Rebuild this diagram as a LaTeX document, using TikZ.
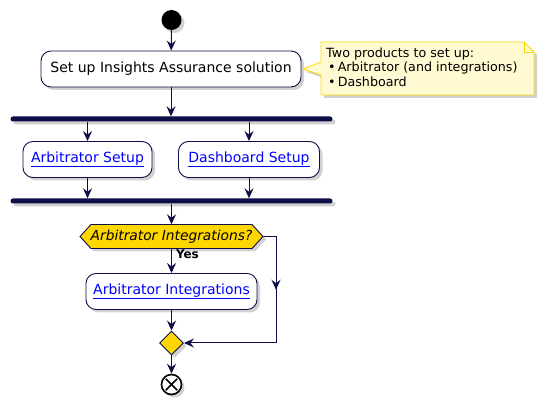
\documentclass[tikz,border=0pt]{standalone}
\usepackage{fontspec}
\setmainfont{DejaVu Sans}
\usetikzlibrary{arrows.meta,shadows,shapes.geometric,calc}
\definecolor{navy}{HTML}{0E0E48}
\definecolor{gold}{HTML}{FFD700}
\definecolor{notefill}{HTML}{FFFAD2}
\definecolor{noteline}{HTML}{FFD700}
\definecolor{linkblue}{HTML}{0000FF}
\tikzset{
  shad/.style={drop shadow={shadow xshift=3pt,shadow yshift=-3pt,opacity=0.3,fill=black!60}},
  act/.style={draw=navy,fill=white,rounded corners=10pt,line width=0.9pt,minimum height=36pt,inner sep=0pt,font=\fontsize{14}{16}\selectfont,shad},
  link/.style={text=linkblue},
  bar/.style={fill=navy,rounded corners=2.5pt,minimum width=322pt,minimum height=5pt,inner sep=0pt,shad},
  arr/.style={draw=navy,line width=1pt,-{Stealth[length=10pt,width=9pt,inset=3.5pt]}},
  plain/.style={draw=navy,line width=1pt},
  gold shape/.style={fill=gold,draw=navy,line width=0.9pt},
}
\newcommand{\lnk}[1]{\textcolor{linkblue}{\underline{#1}}}
\begin{document}
\begin{tikzpicture}[x=1pt,y=-1pt]
\useasboundingbox (0,0) rectangle (542,403);

% start
\node[circle,fill=black,minimum size=20pt,inner sep=0pt,shad] (start) at (171.5,20) {};

% main activity
\node[act,minimum width=260pt] (main) at (171,69) {Set up Insights Assurance solution};

% note
\draw[fill=notefill,draw=noteline,line width=0.8pt,shad]
  (321,42) -- (524,42) -- (534,52) -- (534,95) -- (321,95) -- (321,75) -- (303,69) -- (321,62) -- cycle;
\draw[draw=noteline,line width=0.8pt] (524,42) -- (524,52) -- (534,52);
\node[anchor=north west,align=left,inner sep=0pt,font=\fontsize{12.7}{14.6}\selectfont] (note) at (326,47.5)
  {Two products to set up:\\\hspace{2pt}•\,Arbitrator (and integrations)\\\hspace{2pt}•\,Dashboard};

% fork bars
\node[bar] (fork1) at (171.5,119) {};
\node[bar] (fork2) at (171.5,201) {};

% parallel activities
\node[act,minimum width=129pt] (arb) at (87.5,159.5) {\lnk{Arbitrator Setup}};
\node[act,minimum width=141pt] (dash) at (249,159.5) {\lnk{Dashboard Setup}};

% decision hexagon
\draw[gold shape,shad] (80,236.5) -- (91,224.5) -- (252,224.5) -- (263,236.5) -- (252,248.5) -- (91,248.5) -- cycle;
\node[minimum width=183pt,minimum height=24pt,inner sep=0pt,font=\fontsize{13.8}{16}\selectfont\itshape] (dec) at (171.5,236.5) {Arbitrator Integrations?};

% integration activity
\node[act,minimum width=171pt] (ai) at (171.5,291.5) {\lnk{Arbitrator Integrations}};

% merge diamond
\node[diamond,gold shape,minimum width=24pt,minimum height=24pt,inner sep=0pt,shad] (merge) at (171.5,343) {};

% end
\node[circle,draw=black,fill=white,line width=1.6pt,minimum size=20pt,inner sep=0pt,shad] (end) at (171.5,384.5) {};
\draw[black,line width=1.6pt] ($(end.center)!0.75!(end.45)$) -- ($(end.center)!0.75!(end.225)$);
\draw[black,line width=1.6pt] ($(end.center)!0.75!(end.135)$) -- ($(end.center)!0.75!(end.315)$);

% connectors
\draw[arr] (start) -- (main);
\draw[arr] (main) -- (main |- fork1.north);
\draw[arr] (fork1.south -| arb) -- (arb);
\draw[arr] (fork1.south -| dash) -- (dash);
\draw[arr] (arb) -- (arb |- fork2.north);
\draw[arr] (dash) -- (dash |- fork2.north);
\draw[arr] (fork2) -- (dec.north);
\draw[arr] (dec.south) -- (ai) node[pos=0,anchor=north west,xshift=4pt,yshift=-0.5pt,inner sep=0pt,font=\fontsize{12}{14}\selectfont\bfseries] (yes) {Yes};
\draw[arr] (ai) -- (merge);
\draw[arr] (merge) -- (end);
\coordinate (rt) at (276,236.5);
\coordinate (rb) at (276,343);
\draw[arr] (dec.east) -- (rt) -- (rb) -- (merge.east);
\draw[arr] (rt) -- ($(rt)!0.5!(rb)$);
\end{tikzpicture}
\end{document}
